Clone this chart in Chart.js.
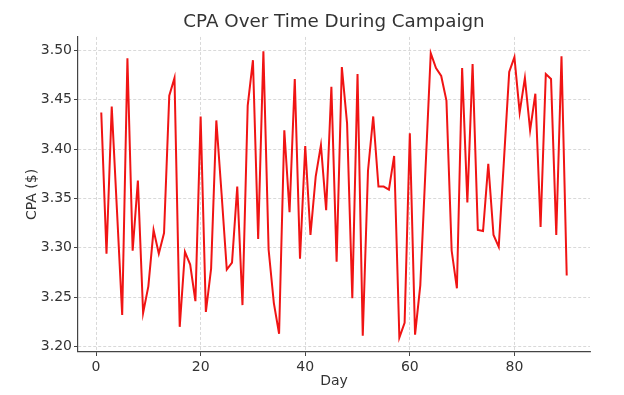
<!DOCTYPE html>
<html>
<head>
<meta charset="utf-8">
<script src="https://cdn.jsdelivr.net/npm/chart.js@4.4.1/dist/chart.umd.min.js"></script>
<style>
  html, body { margin: 0; padding: 0; background: #fff; }
  #wrap { width: 624px; height: 395px; }
</style>
</head>
<body>
<div id="wrap"><canvas id="cpa-chart" width="624" height="395"></canvas></div>
<script>
// CPA per day
const cpa = [
  3.437, 3.294, 3.443, 3.338, 3.232, 3.492, 3.297, 3.368, 3.234, 3.261,
  3.318, 3.294, 3.315, 3.454, 3.472, 3.220, 3.296, 3.283, 3.246, 3.433,
  3.235, 3.279, 3.429, 3.355, 3.278, 3.285, 3.362, 3.242, 3.444, 3.490,
  3.309, 3.499, 3.298, 3.244, 3.213, 3.419, 3.336, 3.471, 3.289, 3.403,
  3.313, 3.372, 3.404, 3.338, 3.463, 3.286, 3.483, 3.426, 3.249, 3.476,
  3.211, 3.378, 3.433, 3.362, 3.362, 3.359, 3.393, 3.209, 3.224, 3.416,
  3.212, 3.262, 3.380, 3.497, 3.482, 3.474, 3.449, 3.297, 3.259, 3.482,
  3.346, 3.486, 3.318, 3.317, 3.385, 3.313, 3.301, 3.389, 3.478, 3.493,
  3.437, 3.472, 3.419, 3.456, 3.321, 3.476, 3.471, 3.313, 3.494, 3.272
];
const days = Array.from({ length: cpa.length }, (_, i) => i + 1);
const xTicks = [0, 20, 40, 60, 80];
const yTicks = [3.20, 3.25, 3.30, 3.35, 3.40, 3.45, 3.50];

const font = "'DejaVu Sans', sans-serif";
const textColor = '#333';
const gridStyle = {
  color: '#cfcfcf',
  lineWidth: 0.8,
  tickLength: 4,
  tickColor: '#444',
  tickBorderDash: [],
  tickWidth: 1
};
// in v4 the dash of the grid lines lives in border.dash
const borderStyle = { display: true, color: '#444', width: 1.2, dash: [3, 2] };

let ctx = document.getElementById('cpa-chart').getContext('2d');
let lineChart = new Chart(ctx, {
  type: 'line',
  data: {
    datasets: [{
      label: 'CPA',
      data: days.map((d, i) => ({ x: d, y: cpa[i] })),
      borderColor: '#f01414',
      borderWidth: 2,
      pointRadius: 0,
      tension: 0,
      fill: false
    }]
  },
  options: {
    responsive: false,
    devicePixelRatio: 1,
    animation: false,
    layout: { padding: { left: 0, right: 34, top: 0, bottom: 0 } },
    plugins: {
      legend: { display: false },
      tooltip: { enabled: false },
      title: {
        display: true,
        fullSize: false,
        text: 'CPA Over Time During Campaign',
        color: textColor,
        font: { family: font, size: 18.3, weight: 'normal' },
        padding: { top: 11, bottom: 4 }
      }
    },
    scales: {
      x: {
        type: 'linear',
        min: -3.45,
        max: 94.45,
        afterBuildTicks: (axis) => { axis.ticks = xTicks.map(v => ({ value: v })); },
        afterFit: (axis) => { axis.height = 43; },
        grid: gridStyle,
        border: borderStyle,
        ticks: {
          color: textColor,
          font: { family: font, size: 14 },
          padding: 3,
          maxRotation: 0
        },
        title: {
          display: true,
          text: 'Day',
          color: textColor,
          font: { family: font, size: 14 },
          padding: { top: 0, bottom: 5.6 }
        }
      },
      y: {
        min: 3.1945,
        max: 3.5135,
        afterBuildTicks: (axis) => { axis.ticks = yTicks.map(v => ({ value: v })); },
        afterFit: (axis) => { axis.width = 78; },
        grid: gridStyle,
        border: borderStyle,
        ticks: {
          color: textColor,
          font: { family: font, size: 14 },
          padding: 2,
          callback: (v) => Number(v).toFixed(2)
        },
        title: {
          display: true,
          text: 'CPA ($)',
          color: textColor,
          font: { family: font, size: 14 },
          padding: { top: 23.6, bottom: 0 }
        }
      }
    }
  }
});
</script>
</body>
</html>
